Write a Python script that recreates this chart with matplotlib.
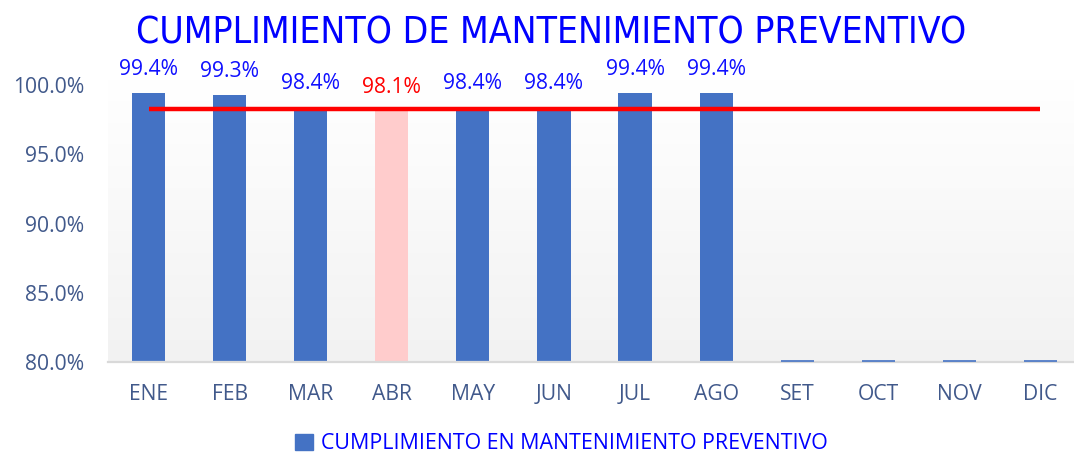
import matplotlib.pyplot as plt
import numpy as np
from matplotlib.patches import Patch

months = ['ENE', 'FEB', 'MAR', 'ABR', 'MAY', 'JUN', 'JUL', 'AGO', 'SET', 'OCT', 'NOV', 'DIC']
cumplimiento = [0.994, 0.993, 0.984, 0.981, 0.984, 0.984, 0.994, 0.994, 0.0, 0.0, 0.0, 0.0]
meta = [0.9825] * 12
label_colors = ['#1010FF', '#1010FF', '#1010FF', '#FF0000', '#1010FF', '#1010FF',
                '#1010FF', '#1010FF', None, None, None, None]
bar_colors = ['#4472C4', '#4472C4', '#4472C4', '#FFCCCC', '#4472C4', '#4472C4',
              '#4472C4', '#4472C4', '#4472C4', '#4472C4', '#4472C4', '#4472C4']
yticks = [0.80, 0.85, 0.90, 0.95, 1.00]

YMIN, YMAX = 0.80, 1.00
TICK_COLOR = '#41598B'
FONT = ['Open Sans', 'DejaVu Sans']

fig = plt.figure(figsize=(10.74, 4.55), dpi=100)
ax = fig.add_axes([108 / 1074, 93 / 455, 973 / 1074, 277 / 455])

x = np.arange(len(months))
vals = np.array(cumplimiento)

# light vertical gradient behind the plot area
grad = np.linspace(0, 1, 256).reshape(-1, 1)
ax.imshow(grad, extent=(-0.5, 11.5, YMIN, YMAX + 0.004), aspect='auto',
          cmap=plt.matplotlib.colors.LinearSegmentedColormap.from_list('g', ['#F2F2F2', '#FFFFFF']),
          origin='lower', zorder=0, clip_on=False)

heights = np.clip(vals - YMIN, 0, None)
ax.bar(x, heights, bottom=YMIN, width=0.41, color=bar_colors, zorder=2)
# empty months show as a thin dash on the baseline
for xi, v in zip(x, vals):
    if v <= YMIN:
        ax.plot([xi - 0.205, xi + 0.205], [YMIN + 0.0006] * 2, color='#4472C4', lw=1.2,
                zorder=3, solid_capstyle='butt')

ax.plot(x, meta, color='#FF0000', lw=3.2, zorder=4, solid_capstyle='butt')

for xi, v, c in zip(x, vals, label_colors):
    if c is None:
        continue
    ax.annotate(f'{v * 100:.1f}%', (xi, v), xytext=(0, 17), textcoords='offset points',
                ha='center', va='center', color=c, fontsize=15.2, family=FONT,
                annotation_clip=False)

ax.set_xlim(-0.5, 11.5)
ax.set_ylim(YMIN, YMAX)
ax.set_yticks(yticks)
ax.set_yticklabels([f'{t * 100:.1f}%' for t in yticks])
ax.set_xticks(x)
ax.set_xticklabels(months)
ax.tick_params(length=0, colors=TICK_COLOR, labelsize=15.2)
ax.tick_params(axis='y', pad=17)
ax.tick_params(axis='x', pad=16)
for lbl in ax.get_xticklabels() + ax.get_yticklabels():
    lbl.set_family(FONT)
for s in ['top', 'right', 'left']:
    ax.spines[s].set_visible(False)
ax.spines['bottom'].set_color('#D9D9D9')
ax.spines['bottom'].set_linewidth(1.6)

fig.text(0.513, 0.928, 'CUMPLIMIENTO DE MANTENIMIENTO PREVENTIVO', ha='center', va='center',
         color='#0000FF', fontsize=26.7, family='DejaVu Sans', fontstretch='condensed')

fig.legend(handles=[Patch(color='#4472C4', label='CUMPLIMIENTO EN MANTENIMIENTO PREVENTIVO')],
           loc='center', bbox_to_anchor=(0.523, 0.025), frameon=False,
           prop={'family': FONT, 'size': 15.4}, labelcolor='#0000FF',
           handlelength=0.8, handleheight=0.8, handletextpad=0.4)

fig.savefig('out.png', dpi=100)
